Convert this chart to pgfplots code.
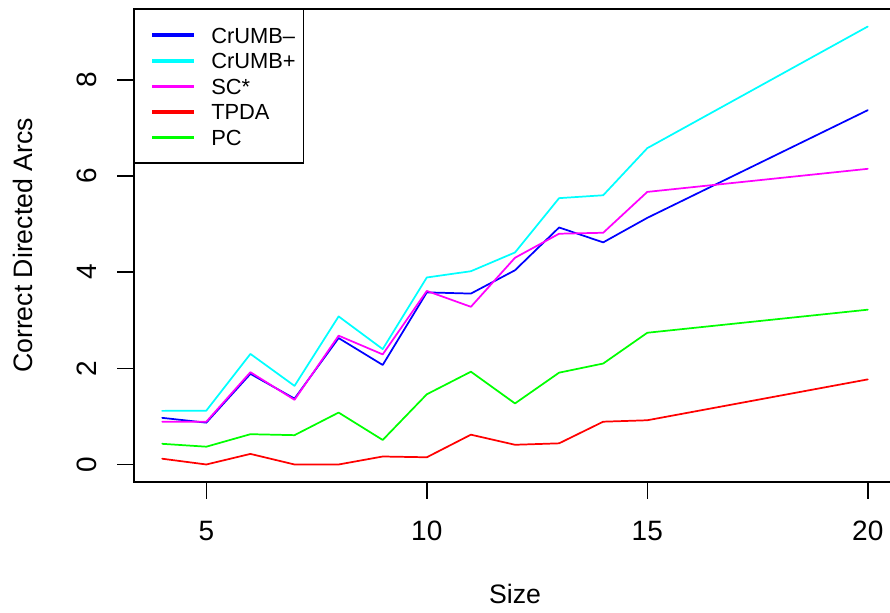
\documentclass[border=0pt]{standalone}
\usepackage{fontspec}
\setmainfont{Liberation Sans}
\usepackage{pgfplots}
\pgfplotsset{compat=1.18}
\definecolor{rblue}{RGB}{0,0,255}
\definecolor{rcyan}{RGB}{0,255,255}
\definecolor{rmag}{RGB}{255,0,255}
\definecolor{rred}{RGB}{255,0,0}
\definecolor{rgreen}{RGB}{0,255,0}
\begin{document}
\begin{tikzpicture}
\begin{axis}[
  at={(0,0)}, anchor=south west,
  scale only axis, width=571.5pt, height=354.75pt,
  xmin=3.36, xmax=20.64, ymin=-0.3644, ymax=9.4744,
  xtick={5,10,15,20}, ytick={0,2,4,6,8},
  /pgf/number format/assume math mode=true,
  axis line style={line width=1.1pt},
  every tick/.style={line width=1.1pt, black},
  tick align=outside, major tick length=12.6pt,
  xtick pos=bottom, ytick pos=left,
  tick label style={font=\fontsize{21}{25}\selectfont, inner sep=0pt},
  xticklabel style={anchor=base, yshift=-30.9pt},
  yticklabel style={rotate=90, anchor=base, yshift=15.5pt},
  xlabel={Size}, ylabel={Correct Directed Arcs},
  label style={font=\fontsize{20}{24}\selectfont, inner sep=0pt},
  xlabel style={at={(axis description cs:0.5,0)}, anchor=base, yshift=-90.75pt},
  ylabel style={at={(axis description cs:0,0.5)}, anchor=base, yshift=75.75pt},
  legend cell align=left,
  legend style={at={(rel axis cs:0,1)}, anchor=north west, draw=black, line width=1.1pt,
    inner xsep=0pt, inner ysep=9.5pt, row sep=0pt, column sep=11.8pt,
    font=\fontsize{16.4}{19.2}\selectfont,
    nodes={inner sep=0pt, text height=15.5pt, text depth=3.7pt, text width=69pt}},
  legend image code/.code={\path[draw=none] (0pt,0pt) -- (13.3pt,0pt); \draw[#1, line width=2.6pt, line cap=butt] (13.3pt,0pt) -- (44.3pt,0pt);},
  every axis plot/.append style={line width=1.3pt, line join=round, line cap=round},
  clip=true,
]
\addplot[rblue] coordinates {(4,0.97)(5,0.87)(6,1.885)(7,1.37)(8,2.63)(9,2.07)(10,3.58)(11,3.555)(12,4.04)(13,4.93)(14,4.62)(15,5.13)(20,7.37)};
\addplot[rcyan] coordinates {(4,1.115)(5,1.12)(6,2.30)(7,1.635)(8,3.08)(9,2.40)(10,3.89)(11,4.02)(12,4.41)(13,5.54)(14,5.60)(15,6.58)(20,9.11)};
\addplot[rmag] coordinates {(4,0.89)(5,0.89)(6,1.92)(7,1.345)(8,2.68)(9,2.29)(10,3.61)(11,3.28)(12,4.30)(13,4.80)(14,4.82)(15,5.67)(20,6.15)};
\addplot[rred] coordinates {(4,0.12)(5,0)(6,0.22)(7,0)(8,0)(9,0.166)(10,0.15)(11,0.62)(12,0.41)(13,0.44)(14,0.89)(15,0.92)(20,1.77)};
\addplot[rgreen] coordinates {(4,0.43)(5,0.37)(6,0.63)(7,0.61)(8,1.08)(9,0.51)(10,1.46)(11,1.93)(12,1.27)(13,1.91)(14,2.10)(15,2.74)(20,3.22)};
\legend{CrUMB–, CrUMB+, SC*, TPDA, PC}
\end{axis}
\pgfresetboundingbox
\path (-100.5pt,-97.5pt) rectangle (567pt,361.5pt);
\end{tikzpicture}
\end{document}
